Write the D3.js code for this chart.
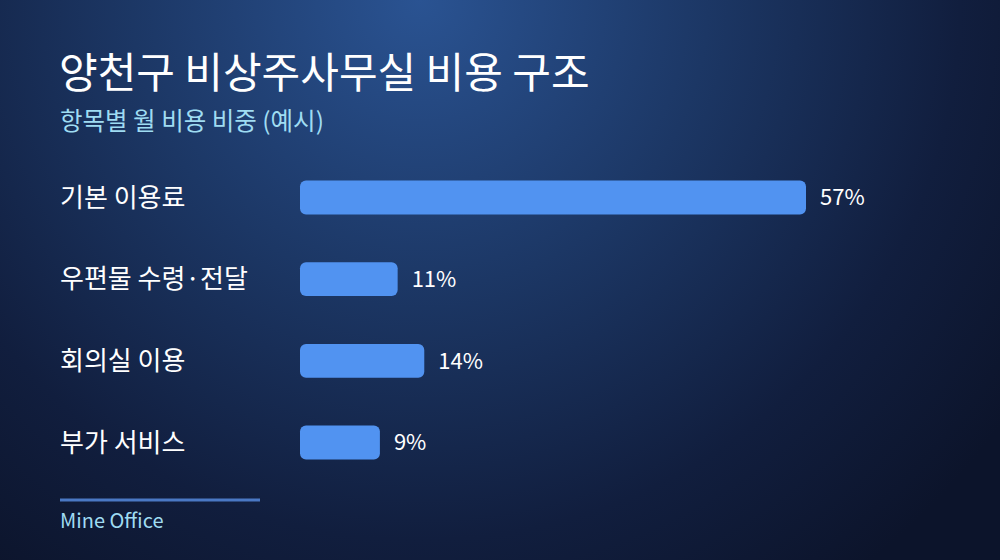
<!DOCTYPE html>
<html>
<head>
<meta charset="utf-8">
<script src="https://cdn.jsdelivr.net/npm/d3@7"></script>
<style>
html,body{margin:0;padding:0;background:#0e1730;}
svg{display:block;}
text{font-family:"Noto Sans CJK KR","Noto Sans",sans-serif;}
</style>
</head>
<body>
<svg id="chart" width="1000" height="560"></svg>
<script>
const title = "양천구 비상주사무실 비용 구조";
const subtitle = "항목별 월 비용 비중 (예시)";
const source = "Mine Office";
const categories = ["기본 이용료", "우편물 수령·전달", "회의실 이용", "부가 서비스"];
const values = [57, 11, 14, 9];

const W = 1000, H = 560;
const svg = d3.select("#chart");
const defs = svg.append("defs");
const grad = defs.append("radialGradient")
  .attr("id", "bg").attr("gradientUnits", "userSpaceOnUse")
  .attr("cx", 420).attr("cy", 0).attr("r", 720);
grad.append("stop").attr("offset", "0%").attr("stop-color", "#2a5392");
grad.append("stop").attr("offset", "40%").attr("stop-color", "#1c3765");
grad.append("stop").attr("offset", "75%").attr("stop-color", "#111e3e");
grad.append("stop").attr("offset", "100%").attr("stop-color", "#0c142b");
svg.append("rect").attr("width", W).attr("height", H).attr("fill", "url(#bg)");

svg.append("text").attr("x", 59).attr("y", 88)
  .attr("fill", "#ffffff").attr("font-size", 42).attr("font-weight", 400)
  .text(title);
svg.append("text").attr("x", 60).attr("y", 130)
  .attr("fill", "#9fdcf2").attr("font-size", 24.5)
  .text(subtitle);

const x = d3.scaleLinear().domain([0, d3.max(values)]).range([0, 506]);
const y = d3.scaleBand().domain(categories).range([156, 484]).paddingInner(0.585).paddingOuter(0.3);

const rows = svg.append("g").selectAll("g").data(categories).join("g")
  .attr("transform", d => `translate(0,${y(d)})`);

rows.append("text").attr("x", 60).attr("y", y.bandwidth() / 2)
  .attr("dy", "0.35em").attr("fill", "#ffffff").attr("font-size", 26)
  .text(d => d);

rows.append("rect").attr("x", 300).attr("y", 0)
  .attr("width", (d, i) => x(values[i])).attr("height", y.bandwidth())
  .attr("rx", 6).attr("ry", 6).attr("fill", "#5193f1");

rows.append("text").attr("x", (d, i) => 300 + x(values[i]) + 14).attr("y", y.bandwidth() / 2)
  .attr("dy", "0.35em").attr("fill", "#ffffff").attr("font-size", 22)
  .text((d, i) => values[i] + "%");

svg.append("line").attr("x1", 60).attr("x2", 260).attr("y1", 500).attr("y2", 500)
  .attr("stroke", "#4a78c4").attr("stroke-width", 3);
svg.append("text").attr("x", 60).attr("y", 528)
  .attr("fill", "#9fdcf2").attr("font-size", 20)
  .text(source);
</script>
</body>
</html>
